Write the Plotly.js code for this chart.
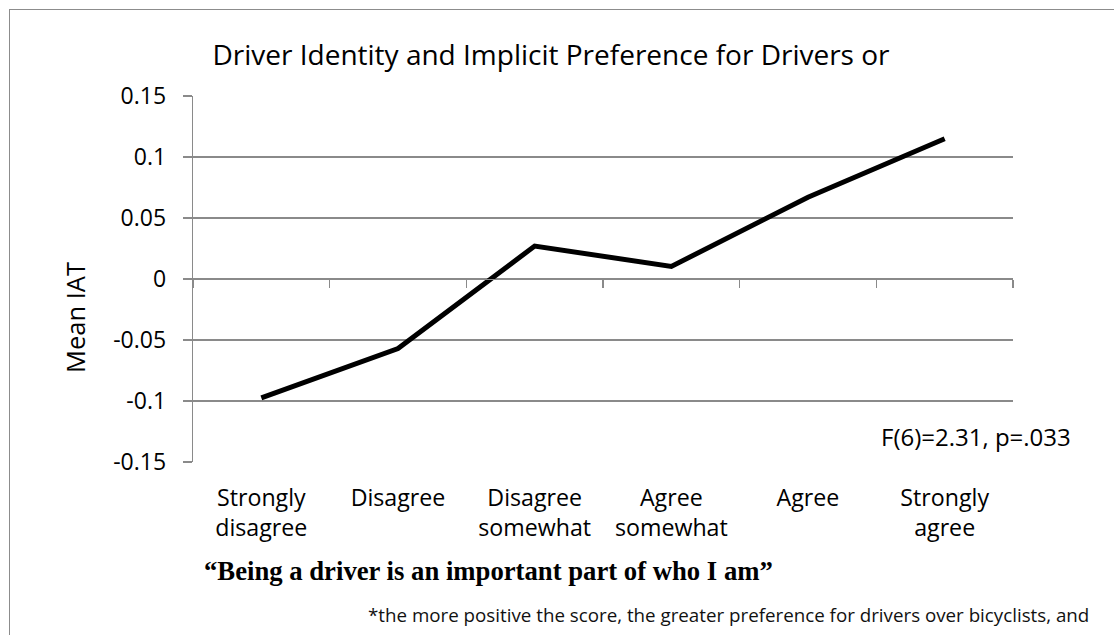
<!DOCTYPE html>
<html>
<head>
<meta charset="utf-8">
<script src="https://cdn.plot.ly/plotly-3.0.1.min.js"></script>
<style>
  html, body { margin: 0; padding: 0; background: #ffffff; overflow: hidden; }
  #frame { position: absolute; left: 9px; top: 9px; width: 1200px; height: 700px;
           border-left: 1.5px solid #8c8c8c; border-top: 1.5px solid #8c8c8c; }
  #chart { position: absolute; left: 0; top: 0; width: 1114px; height: 635px; }
</style>
</head>
<body>
<div id="frame"></div>
<div id="chart"></div>
<script>
// ---- data ----
const categories = ["Strongly disagree", "Disagree", "Disagree somewhat", "Agree somewhat", "Agree", "Strongly agree"];
const meanIAT = [-0.0975, -0.057, 0.027, 0.0103, 0.067, 0.115];
const yTickValues = [-0.15, -0.1, -0.05, 0, 0.05, 0.1, 0.15];
const yTickLabels = ["-0.15", "-0.1", "-0.05", "0", "0.05", "0.1", "0.15"];
const chartTitle = "Driver Identity and Implicit Preference for Drivers or";
const yTitle = "Mean IAT";
const xTitle = "\u201cBeing a driver is an important part of who I am\u201d";
const statText = "F(6)=2.31, p=.033";
const footnote = "*the more positive the score, the greater preference for drivers over bicyclists, and";

const catLabels = categories.map(c => c.replace(" ", "<br>"));
const gridGray = "#8a8a8a";
const sans = "'Open Sans', Lato, sans-serif";

const traces = [
  {
    type: "scatter", mode: "lines",
    x: categories, y: meanIAT,
    xaxis: "x", yaxis: "y",
    line: { color: "#000000", width: 5 },
    hoverinfo: "skip", showlegend: false
  },
  {
    // carries the zero-crossing category axis (tick marks only)
    type: "scatter", mode: "lines",
    x: categories, y: meanIAT,
    xaxis: "x2", yaxis: "y",
    line: { color: "rgba(0,0,0,0)", width: 0 },
    hoverinfo: "skip", showlegend: false
  }
];

const layout = {
  width: 1114, height: 635,
  paper_bgcolor: "rgba(0,0,0,0)",
  plot_bgcolor: "rgba(0,0,0,0)",
  margin: { l: 193, r: 101, t: 96, b: 173, pad: 0 },
  showlegend: false,
  title: {
    text: chartTitle,
    font: { family: sans, size: 28, color: "#000000" },
    x: 551 / 1114, xanchor: "center", xref: "container",
    y: 1 - 55 / 635, yanchor: "middle", yref: "container"
  },
  xaxis: {
    type: "category",
    categoryorder: "array", categoryarray: categories,
    tickvals: categories, ticktext: catLabels,
    range: [-0.5, 5.5],
    showgrid: false, zeroline: false, showline: false,
    ticks: "",
    ticklabelstandoff: 20,
    tickfont: { family: sans, size: 23.2, color: "#000000" }
  },
  xaxis2: {
    type: "category",
    categoryorder: "array", categoryarray: categories,
    overlaying: "x", anchor: "free", position: 0.5, side: "bottom",
    range: [-0.5, 5.5],
    showgrid: false, zeroline: false,
    showline: true, linecolor: gridGray, linewidth: 1.3,
    ticks: "outside", tickson: "boundaries", ticklen: 8, tickwidth: 1.3, tickcolor: gridGray,
    showticklabels: false
  },
  yaxis: {
    range: [-0.15, 0.15],
    tickvals: yTickValues, ticktext: yTickLabels,
    showgrid: true, gridcolor: gridGray, gridwidth: 1.3,
    zeroline: false,
    showline: true, linecolor: gridGray, linewidth: 1.3,
    ticks: "outside", ticklen: 9, tickwidth: 1.3, tickcolor: gridGray,
    ticklabelstandoff: 12,
    tickfont: { family: sans, size: 23, color: "#000000" }
  },
  annotations: [
    {
      text: yTitle, textangle: -90,
      xref: "paper", yref: "paper",
      x: (75 - 193) / 820, y: (462 - 318) / 366,
      xanchor: "center", yanchor: "middle", showarrow: false,
      font: { family: sans, size: 25.5, color: "#000000" }
    },
    {
      text: statText,
      xref: "paper", yref: "paper",
      x: (1073 - 193) / 820, y: (462 - 436) / 366,
      xanchor: "right", yanchor: "middle", showarrow: false,
      font: { family: sans, size: 24, color: "#000000" }
    },
    {
      text: "<b>" + xTitle + "</b>",
      xref: "paper", yref: "paper",
      x: (202 - 193) / 820, y: (462 - 571) / 366,
      xanchor: "left", yanchor: "middle", showarrow: false,
      font: { family: "'Liberation Serif', 'Times New Roman', serif", size: 26.7, color: "#000000" }
    },
    {
      text: footnote,
      xref: "paper", yref: "paper",
      x: (1091 - 193) / 820, y: (462 - 614) / 366,
      xanchor: "right", yanchor: "middle", showarrow: false,
      font: { family: sans, size: 18.75, color: "#111111" }
    }
  ]
};

Plotly.newPlot("chart", traces, layout, { displayModeBar: false, staticPlot: true });
</script>
</body>
</html>
